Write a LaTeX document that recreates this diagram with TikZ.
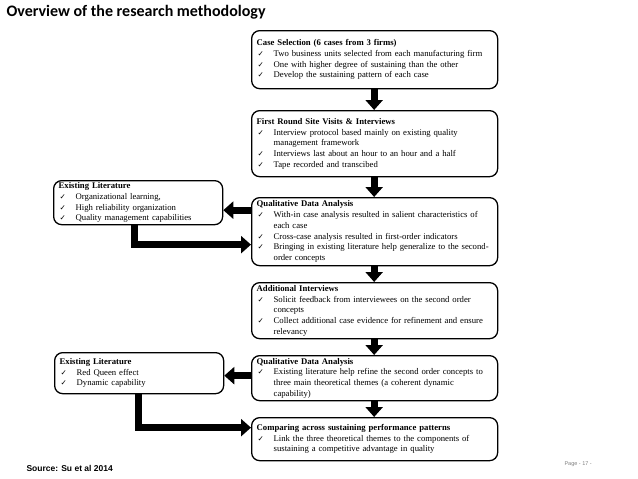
\documentclass[tikz,border=0pt]{standalone}
\usepackage{fontspec}
\setmainfont{Liberation Serif}
\newfontfamily\titlefont{Carlito}
\newfontfamily\srcfont{Liberation Sans}
\newfontfamily\symfont{DejaVu Sans}
\usetikzlibrary{arrows.meta}
\newcommand{\ck}{{\symfont\fontsize{7.5}{7.5}\selectfont ✓}}
\newcommand{\itm}[1]{\par\hangindent=17pt\hangafter=1\noindent\makebox[17pt][l]{\hspace{1pt}\ck}#1\par}
\newcommand{\hd}[1]{\noindent\textbf{#1}}

\begin{document}
\begin{tikzpicture}[x=1pt,y=-1pt,
  stagebox/.style={draw,line width=1.3pt,rounded corners=8pt,anchor=north west,
    inner xsep=5pt,inner ysep=2pt,font=\fontsize{8.7}{10.7}\selectfont,align=left},
  mainbox/.style={stagebox,text width=236pt},
  litbox/.style={stagebox,text width=159pt},
  fat/.style={line width=7pt,-{Triangle[width=17pt,length=10pt]}}]
\useasboundingbox (0,0) rectangle (638,479);

\node[anchor=west,font=\titlefont\bfseries\fontsize{16}{18}\selectfont] (title) at (3,12) {Overview of the research methodology};
\node[anchor=west,font=\srcfont\bfseries\fontsize{8.5}{10}\selectfont] (source) at (23,468) {Source: Su et al 2014};
\node[anchor=west,text=gray,font=\srcfont\fontsize{5.5}{6}\selectfont] (page) at (561,464) {Page - 17 -};

\node[mainbox,minimum height=58pt] (sel) at (251,30) {\hd{Case Selection (6 cases from 3 firms)}
  \itm{Two business units selected from each manufacturing firm}
  \itm{One with higher degree of sustaining than the other}
  \itm{Develop the sustaining pattern of each case}};
\node[mainbox,minimum height=66pt] (visit) at (251,110) {\hd{First Round Site Visits \& Interviews}
  \itm{Interview protocol based mainly on existing quality\newline management framework}
  \itm{Interviews last about an hour to an hour and a half}
  \itm{Tape recorded and transcibed}};
\node[mainbox,minimum height=68pt] (qda1) at (251,197) {\hd{Qualitative Data Analysis}
  \itm{With-in case analysis resulted in salient characteristics of\newline each case}
  \itm{Cross-case analysis resulted in first-order indicators}
  \itm{Bringing in existing literature help generalize to the second-\newline order concepts}};
\node[mainbox,minimum height=56pt] (addint) at (251,282) {\hd{Additional Interviews}
  \itm{Solicit feedback from interviewees on the second order\newline concepts}
  \itm{Collect additional case evidence for refinement and ensure\newline relevancy}};
\node[mainbox,minimum height=45pt] (qda2) at (251,355) {\hd{Qualitative Data Analysis}
  \itm{Existing literature help refine the second order concepts to\newline three main theoretical themes (a coherent dynamic\newline capability)}};
\node[mainbox,minimum height=43pt] (cmp) at (251,417) {\hd{Comparing across sustaining performance patterns}
  \itm{Link the three theoretical themes to the components of\newline sustaining a competitive advantage in quality}};

\node[litbox,minimum height=43pt] (lit1) at (53,180) {\hd{Existing Literature}
  \itm{Organizational learning,}
  \itm{High reliability organization}
  \itm{Quality management capabilities}};
\node[litbox,minimum height=41pt] (lit2) at (54,352) {\hd{Existing Literature}
  \itm{Red Queen effect}
  \itm{Dynamic capability}};

\coordinate (backA) at ([yshift=-7.5pt]lit1.east);
\coordinate (backB) at ([yshift=-2.5pt]lit2.east);
\coordinate (bendA) at ([yshift=-13pt]qda1.west);
\coordinate (bendB) at ([yshift=11.5pt]cmp.west);

\draw[fat] ([xshift=-0.5pt]sel.south) -- ([xshift=-0.5pt]visit.north);
\draw[fat] ([xshift=-0.5pt]visit.south) -- ([xshift=-0.5pt]qda1.north);
\draw[fat] ([xshift=-0.5pt]qda1.south) -- ([xshift=-0.5pt]addint.north);
\draw[fat] ([xshift=-0.5pt]addint.south) -- ([xshift=-0.5pt]qda2.north);
\draw[fat] ([xshift=-0.5pt]qda2.south) -- ([xshift=-0.5pt]cmp.north);
\draw[fat] (qda1.west |- backA) -- (backA);
\draw[fat] (qda2.west |- backB) -- (backB);
\draw[fat] ([xshift=-4pt]lit1.south) |- (bendA);
\draw[fat] ([xshift=-1pt]lit2.south) |- (bendB);
\end{tikzpicture}
\end{document}
